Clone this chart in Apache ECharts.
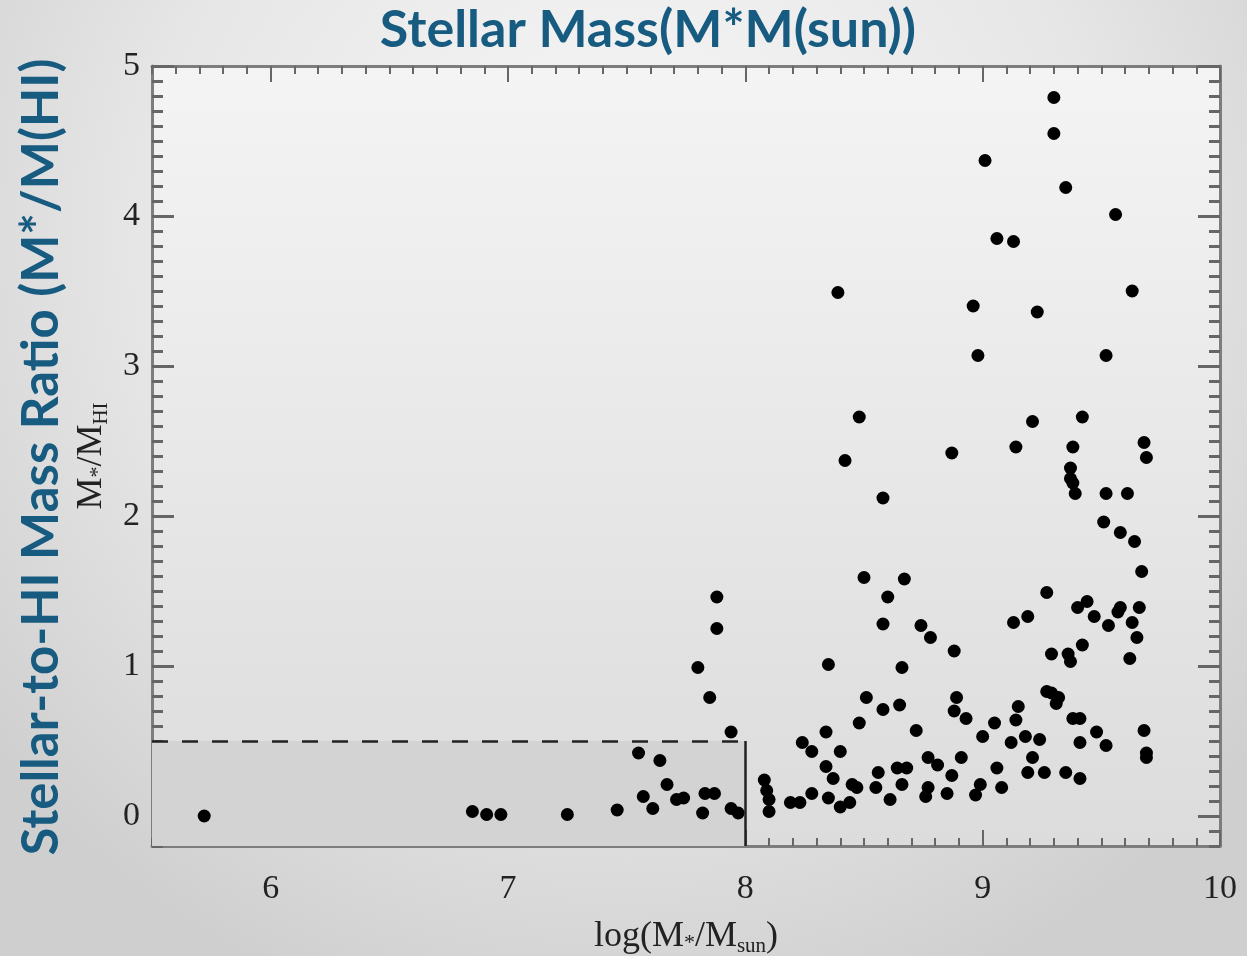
<!DOCTYPE html>
<html>
<head>
<meta charset="utf-8">
<title>Stellar Mass</title>
<script src="https://cdn.jsdelivr.net/npm/echarts@6/dist/echarts.min.js"></script>
<style>
  html, body { margin: 0; padding: 0; }
  #chart { width: 1247px; height: 956px; }
</style>
</head>
<body>
<div id="chart"></div>
<script>
// log(M*/Msun) of each galaxy
var massLog = [
  5.72, 6.85, 6.91, 6.97, 7.25, 7.46, 7.55, 7.64, 7.67, 7.57,
  7.61, 7.71, 7.74, 7.83, 7.87, 7.82, 7.94, 7.97, 7.85, 7.94,
  7.80, 7.88, 7.88, 8.08, 8.09, 8.10, 8.10, 8.19, 8.23, 8.28,
  8.24, 8.28, 8.34, 8.40, 8.34, 8.37, 8.35, 8.40, 8.44, 8.45,
  8.47, 8.48, 8.51, 8.55, 8.35, 8.39, 8.42, 8.48, 8.50, 8.58,
  8.67, 8.60, 8.58, 8.74, 8.78, 8.88, 8.66, 8.87, 8.96, 8.98,
  9.01, 9.06, 9.13, 9.14, 9.21, 9.23, 9.30, 9.30, 9.35, 9.56,
  9.63, 9.52, 9.42, 9.38, 9.37, 9.37, 9.38, 9.39, 9.52, 9.61,
  9.68, 9.69, 9.51, 9.58, 9.64, 9.67, 9.27, 9.13, 9.19, 9.40,
  9.44, 9.47, 9.53, 9.57, 9.58, 9.66, 9.63, 9.65, 9.62, 9.29,
  9.36, 9.37, 9.42, 8.58, 8.65, 8.72, 8.89, 8.88, 8.93, 9.05,
  9.00, 9.15, 9.14, 9.12, 9.18, 9.24, 9.27, 9.29, 9.32, 9.31,
  9.38, 9.48, 9.52, 9.41, 9.68, 9.69, 8.77, 8.81, 8.87, 8.91,
  8.56, 8.64, 8.68, 8.61, 8.66, 8.77, 8.76, 8.85, 8.99, 8.97,
  9.06, 9.08, 9.21, 9.19, 9.26, 9.35, 9.41, 9.41, 9.69
]
// M*/M_HI of each galaxy
var massRatio = [
  0.00, 0.03, 0.01, 0.01, 0.01, 0.04, 0.42, 0.37, 0.21, 0.13,
  0.05, 0.11, 0.12, 0.15, 0.15, 0.02, 0.05, 0.02, 0.79, 0.56,
  0.99, 1.25, 1.46, 0.24, 0.17, 0.11, 0.03, 0.09, 0.09, 0.15,
  0.49, 0.43, 0.56, 0.43, 0.33, 0.25, 0.12, 0.06, 0.09, 0.21,
  0.19, 0.62, 0.79, 0.19, 1.01, 3.49, 2.37, 2.66, 1.59, 2.12,
  1.58, 1.46, 1.28, 1.27, 1.19, 1.10, 0.99, 2.42, 3.40, 3.07,
  4.37, 3.85, 3.83, 2.46, 2.63, 3.36, 4.79, 4.55, 4.19, 4.01,
  3.50, 3.07, 2.66, 2.46, 2.32, 2.25, 2.22, 2.15, 2.15, 2.15,
  2.49, 2.39, 1.96, 1.89, 1.83, 1.63, 1.49, 1.29, 1.33, 1.39,
  1.43, 1.33, 1.27, 1.36, 1.39, 1.39, 1.29, 1.19, 1.05, 1.08,
  1.08, 1.03, 1.14, 0.71, 0.74, 0.57, 0.79, 0.70, 0.65, 0.62,
  0.53, 0.73, 0.64, 0.49, 0.53, 0.51, 0.83, 0.82, 0.79, 0.75,
  0.65, 0.56, 0.47, 0.49, 0.57, 0.42, 0.39, 0.34, 0.27, 0.39,
  0.29, 0.32, 0.32, 0.11, 0.21, 0.19, 0.13, 0.15, 0.21, 0.14,
  0.32, 0.19, 0.39, 0.29, 0.29, 0.29, 0.25, 0.65, 0.39
]

var xRange = [5.5, 10]
var yRange = [-0.2, 5]
var xLabels = [6, 7, 8, 9, 10]
var yLabels = [0, 1, 2, 3, 4, 5]
// selection box: log(M*) < 8 and ratio < 0.5
var boxCorner = [8, 0.5]

// minor ticks every 0.1
function steps (from, to) {
  var out = []
  for (var i = Math.round(from * 10); i <= Math.round(to * 10); i++) {
    out.push(i / 10)
  }
  return out
}
var xMinor = steps(xRange[0], xRange[1])
var yMinor = steps(yRange[0], yRange[1])

var points = massLog.map(function (v, i) {
  return [v, massRatio[i]]
})

var chart = echarts.init(document.getElementById('chart'))

var axisGray = '#7d7d7d'
var serif = '"Liberation Serif", "DejaVu Serif", serif'
var blue = '#185b81'

function xAxisDef (pos, major, withLabel) {
  return {
    type: 'value',
    position: pos,
    min: xRange[0],
    max: xRange[1],
    splitLine: { show: false },
    axisLine: { show: major, onZero: false, lineStyle: { color: axisGray, width: 3 } },
    axisTick: {
      show: true,
      inside: true,
      length: major ? 16 : 8,
      customValues: major ? xLabels : xMinor,
      lineStyle: { color: '#666', width: 2 }
    },
    axisLabel: {
      show: withLabel,
      customValues: xLabels,
      margin: 26,
      fontFamily: serif,
      fontSize: 34,
      color: '#222'
    }
  }
}

function yAxisDef (pos, major, withLabel) {
  return {
    type: 'value',
    position: pos,
    min: yRange[0],
    max: yRange[1],
    splitLine: { show: false },
    axisLine: { show: major, onZero: false, lineStyle: { color: axisGray, width: 3 } },
    axisTick: {
      show: true,
      inside: true,
      length: major ? 22 : 11,
      customValues: major ? yLabels : yMinor,
      lineStyle: { color: '#666', width: 3 }
    },
    axisLabel: {
      show: withLabel,
      customValues: yLabels,
      margin: 12,
      fontFamily: serif,
      fontSize: 34,
      color: '#222'
    }
  }
}

var nameRich = {
  n: { fontFamily: serif, fontSize: 36, color: '#222' },
  st: { fontFamily: serif, fontSize: 22, color: '#222', padding: [14, 0, 0, 0] },
  sb: { fontFamily: serif, fontSize: 21, color: '#222', padding: [20, 0, 0, 0] }
}

var xMain = xAxisDef('bottom', true, true)
xMain.name = '{n|log(M}{st|*}{n|/M}{sb|sun}{n|)}'
xMain.nameLocation = 'middle'
xMain.nameGap = 70
xMain.nameTextStyle = { rich: nameRich }

var yMain = yAxisDef('left', true, true)
yMain.name = '{n|M}{st|*}{n|/M}{sb|HI}'
yMain.nameLocation = 'middle'
yMain.nameRotate = 90
yMain.nameGap = 36
yMain.nameTextStyle = { rich: nameRich }

var option = {
  backgroundColor: {
    type: 'radial',
    x: 0.5,
    y: 0.25,
    r: 0.85,
    colorStops: [
      { offset: 0, color: '#f8f8f8' },
      { offset: 0.6, color: '#e6e6e6' },
      { offset: 1, color: '#cfcfcf' }
    ]
  },
  animation: false,
  grid: {
    left: 152,
    top: 66,
    right: 27,
    bottom: 110,
    outerBoundsMode: 'none',
    containLabel: false,
    show: true,
    borderWidth: 0,
    backgroundColor: {
      type: 'linear',
      x: 0, y: 0, x2: 0, y2: 1,
      colorStops: [
        { offset: 0, color: '#f4f4f4' },
        { offset: 1, color: '#dcdcdc' }
      ]
    }
  },
  xAxis: [
    xMain,
    xAxisDef('bottom', false, false),
    xAxisDef('top', true, false),
    xAxisDef('top', false, false)
  ],
  yAxis: [
    yMain,
    yAxisDef('left', false, false),
    yAxisDef('right', true, false),
    yAxisDef('right', false, false)
  ],
  graphic: [
    {
      type: 'text',
      x: 648,
      y: 30,
      z: 10,
      style: {
        text: 'Stellar Mass(M*M(sun))',
        font: 'bold 52px Lato, "Open Sans", sans-serif',
        fill: blue,
        align: 'center',
        verticalAlign: 'middle'
      }
    },
    {
      type: 'text',
      x: 42,
      y: 457,
      rotation: Math.PI / 2,
      z: 10,
      style: {
        text: 'Stellar-to-HI Mass Ratio (M*/M(HI)',
        font: 'bold 51px Lato, "Open Sans", sans-serif',
        fill: blue,
        align: 'center',
        verticalAlign: 'middle'
      }
    }
  ],
  series: [
    {
      type: 'scatter',
      xAxisIndex: 0,
      yAxisIndex: 0,
      symbol: 'circle',
      symbolSize: 13,
      itemStyle: { color: '#000', opacity: 1 },
      data: points,
      markArea: {
        silent: true,
        itemStyle: { color: '#d3d3d3' },
        data: [[{ coord: [xRange[0], yRange[0]] }, { coord: [boxCorner[0], boxCorner[1]] }]]
      },
      markLine: {
        silent: true,
        symbol: 'none',
        label: { show: false },
        data: [
          [
            { coord: [xRange[0], boxCorner[1]], lineStyle: { color: '#222', width: 2.5, type: [16, 14] } },
            { coord: [boxCorner[0], boxCorner[1]] }
          ],
          [
            { coord: [boxCorner[0], yRange[0]], lineStyle: { color: '#222', width: 2.5, type: 'solid' } },
            { coord: [boxCorner[0], boxCorner[1]] }
          ]
        ]
      }
    }
  ]
}

chart.setOption(option)
</script>
</body>
</html>
